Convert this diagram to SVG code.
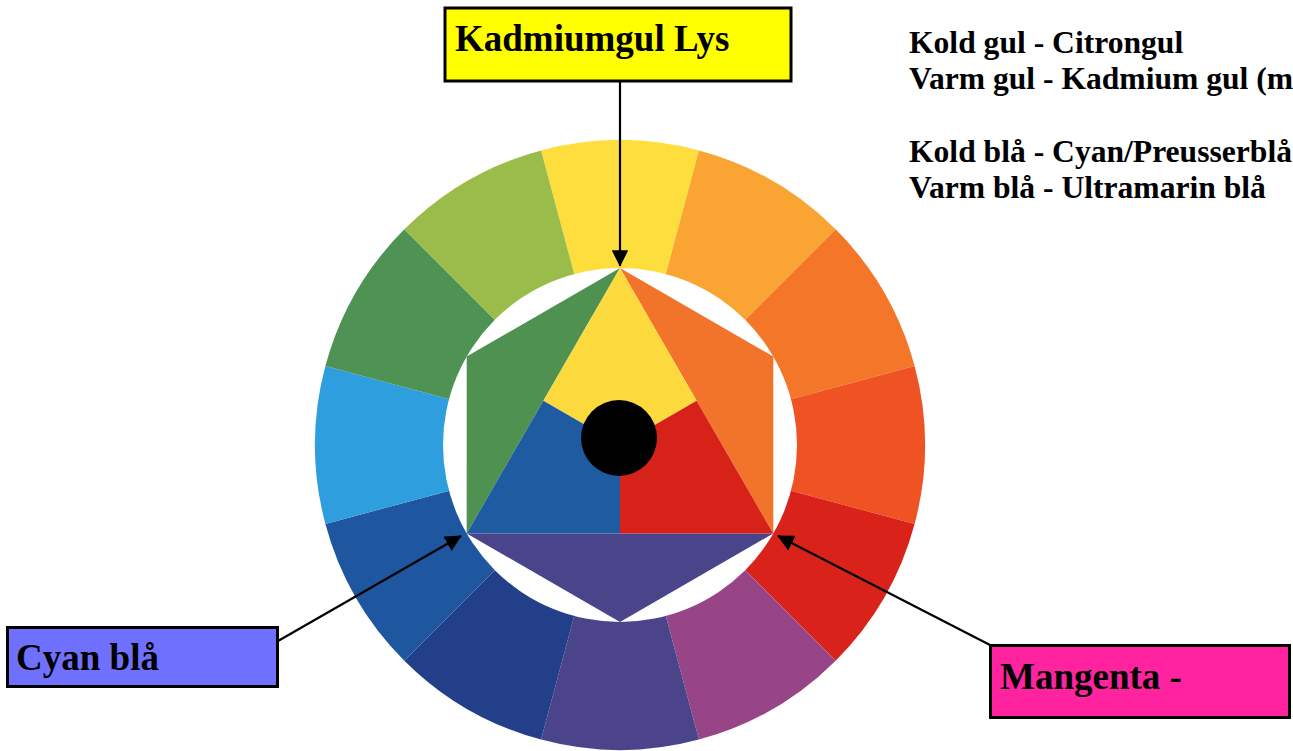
<svg xmlns="http://www.w3.org/2000/svg" width="1293" height="751" viewBox="0 0 1293 751">
<style>
.box{stroke:#000;stroke-width:3}
.conn{stroke:#000;stroke-width:2.2;fill:none}
</style>
<defs>
<marker id="ah" viewBox="0 0 10 10" refX="9.5" refY="5" markerWidth="7.5" markerHeight="7.5" orient="auto" markerUnits="strokeWidth">
<path d="M0,0 L10,5 L0,10 Z" fill="#000"/>
</marker>
</defs>
<rect width="1293" height="751" fill="#fff"/>
<g id="wheel">
<g id="ring">
<path d="M620,445 L541.06,150.39 A305,305 0 0 1 698.94,150.39 Z" fill="#FDDE3C"/>
<path d="M620,445 L698.94,150.39 A305,305 0 0 1 835.67,229.33 Z" fill="#F9A433"/>
<path d="M620,445 L835.67,229.33 A305,305 0 0 1 914.61,366.06 Z" fill="#F47729"/>
<path d="M620,445 L914.61,366.06 A305,305 0 0 1 914.61,523.94 Z" fill="#EF5324"/>
<path d="M620,445 L914.61,523.94 A305,305 0 0 1 835.67,660.67 Z" fill="#D9231A"/>
<path d="M620,445 L835.67,660.67 A305,305 0 0 1 698.94,739.61 Z" fill="#984588"/>
<path d="M620,445 L698.94,739.61 A305,305 0 0 1 541.06,739.61 Z" fill="#4B448A"/>
<path d="M620,445 L541.06,739.61 A305,305 0 0 1 404.33,660.67 Z" fill="#233F89"/>
<path d="M620,445 L404.33,660.67 A305,305 0 0 1 325.39,523.94 Z" fill="#1E57A0"/>
<path d="M620,445 L325.39,523.94 A305,305 0 0 1 325.39,366.06 Z" fill="#2E9EDF"/>
<path d="M620,445 L325.39,366.06 A305,305 0 0 1 404.33,229.33 Z" fill="#4E9254"/>
<path d="M620,445 L404.33,229.33 A305,305 0 0 1 541.06,150.39 Z" fill="#9ABC4B"/>
<circle cx="620" cy="445" r="177" fill="#fff"/>
</g>
<g id="hexagon">
<polygon points="620,268 466.71,356.5 466.71,533.5" fill="#4E9150"/>
<polygon points="620,268 773.29,356.5 773.29,533.5" fill="#F2732A"/>
<polygon points="466.71,533.5 620,622 773.29,533.5" fill="#4A458B"/>
<polygon points="620,268 696.64,400.75 620,445 543.36,400.75" fill="#FCDA3E"/>
<polygon points="696.64,400.75 773.29,533.5 620,533.5 620,445" fill="#D7221A"/>
<polygon points="543.36,400.75 620,445 620,533.5 466.71,533.5" fill="#1F5BA1"/>
</g>
<circle id="dot" cx="619" cy="438" r="38" fill="#000"/>
</g>
<g id="connectors">
<line class="conn" x1="620" y1="82" x2="620" y2="266" marker-end="url(#ah)"/>
<line class="conn" x1="278" y1="641" x2="461" y2="536" marker-end="url(#ah)"/>
<line class="conn" x1="990" y1="645" x2="778" y2="536" marker-end="url(#ah)"/>
</g>
<g id="node-kadmiumgul">
<rect class="box" x="445" y="8" width="346" height="73" fill="#FFFF00"/>
<text x="455" y="51" font-family="Liberation Serif, serif" font-weight="bold" font-size="37">Kadmiumgul Lys</text>
</g>
<g id="node-cyan">
<rect class="box" x="7.5" y="627.5" width="270" height="59" fill="#7070FF"/>
<text x="16" y="670" font-family="Liberation Serif, serif" font-weight="bold" font-size="37">Cyan blå</text>
</g>
<g id="node-magenta">
<rect class="box" x="990.5" y="645.5" width="299" height="72" fill="#FF23A0"/>
<text x="1000" y="689" font-family="Liberation Serif, serif" font-weight="bold" font-size="37">Mangenta -</text>
</g>
<g id="notes" font-family="Liberation Serif, serif" font-weight="bold" font-size="31.6">
<text x="909" y="53">Kold gul - Citrongul</text>
<text x="909" y="89">Varm gul - Kadmium gul (m</text>
<text x="909" y="162">Kold blå - Cyan/Preusserblå</text>
<text x="909" y="198">Varm blå - Ultramarin blå</text>
</g>
</svg>
